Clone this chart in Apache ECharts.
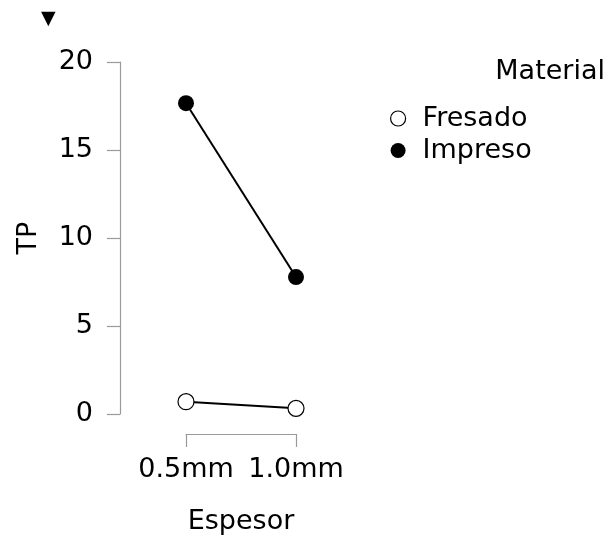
<!DOCTYPE html>
<html>
<head>
<meta charset="utf-8">
<script src="https://cdn.jsdelivr.net/npm/echarts@6/dist/echarts.min.js"></script>
<style>
  html, body { margin: 0; padding: 0; background: #fff; }
  #chart { width: 610px; height: 540px; }
</style>
</head>
<body>
<div id="chart"></div>
<script>
const espesor = ['0.5mm', '1.0mm']
const fresado = [0.7, 0.32]
const impreso = [17.66, 7.78]
const yTicks = { min: 0, max: 20, step: 5 }

const font = 'DejaVu Sans'
const fs = 27
const axisGray = '#9a9a9a'

const chart = echarts.init(document.getElementById('chart'))
const option = {
  animation: false,
  textStyle: { fontFamily: font },
  title: [
    { text: '▼', left: 36, top: 5, textStyle: { fontSize: 19, fontWeight: 'normal', color: '#000', fontFamily: font } },
    { text: 'Material', right: 0, top: 53, textStyle: { fontSize: fs, fontWeight: 'normal', color: '#000', fontFamily: font } }
  ],
  legend: {
    orient: 'vertical',
    left: 385,
    top: 100,
    icon: 'circle',
    itemWidth: 15,
    itemHeight: 15,
    itemGap: 5,
    textStyle: { fontSize: fs, lineHeight: 27, color: '#000', fontFamily: font, padding: [0, 0, 0, 12] },
    data: [
      { name: 'Fresado', itemStyle: { color: '#fff', borderColor: '#000', borderWidth: 1.2 } },
      { name: 'Impreso', itemStyle: { color: '#000' } }
    ]
  },
  grid: { left: 186, right: 314, top: 62, bottom: 125, containLabel: false },
  xAxis: {
    type: 'category',
    data: espesor,
    boundaryGap: false,
    offset: 20,
    name: 'Espesor',
    nameLocation: 'middle',
    nameGap: 74,
    nameTextStyle: { fontSize: fs, color: '#000', fontFamily: font },
    axisLine: { show: true, onZero: false, lineStyle: { color: axisGray, width: 1.2 } },
    axisTick: { show: true, inside: false, length: 13, interval: 0, lineStyle: { color: axisGray, width: 1.2 } },
    axisLabel: { fontSize: fs, color: '#000', margin: 22, interval: 0, fontFamily: font },
    splitLine: { show: false }
  },
  yAxis: {
    type: 'value',
    min: yTicks.min,
    max: yTicks.max,
    interval: yTicks.step,
    offset: 66,
    name: 'TP',
    nameLocation: 'middle',
    nameGap: 78,
    nameTextStyle: { fontSize: fs, color: '#000', fontFamily: font },
    axisLine: { show: true, onZero: false, lineStyle: { color: axisGray, width: 1.2 } },
    axisTick: { show: true, inside: false, length: 13, lineStyle: { color: axisGray, width: 1.2 } },
    axisLabel: { fontSize: fs, color: '#000', margin: 27, fontFamily: font },
    splitLine: { show: false }
  },
  series: [
    {
      name: 'Fresado',
      type: 'line',
      data: fresado,
      symbol: 'circle',
      symbolSize: 16,
      z: 3,
      lineStyle: { color: '#000', width: 2 },
      itemStyle: { color: '#fff', borderColor: '#000', borderWidth: 1.2 }
    },
    {
      name: 'Impreso',
      type: 'line',
      data: impreso,
      symbol: 'circle',
      symbolSize: 16,
      z: 3,
      lineStyle: { color: '#000', width: 2 },
      itemStyle: { color: '#000' }
    }
  ]
}
chart.setOption(option)
</script>
</body>
</html>
